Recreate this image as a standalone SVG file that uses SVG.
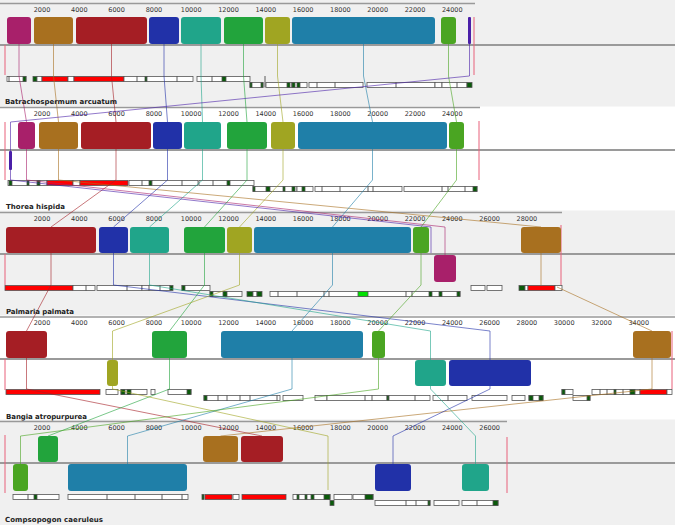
<svg xmlns="http://www.w3.org/2000/svg" width="675" height="528" viewBox="0 0 675 528">
<style>
.bg{fill:#f0f0f0}
.ax{stroke:#999;stroke-width:1.5}
.cl{stroke:#9a9a9a;stroke-width:2}
.tk{font-family:"DejaVu Sans",sans-serif;font-size:6.5px;fill:#333;text-anchor:middle}
.nm{font-family:"DejaVu Sans",sans-serif;font-weight:bold;font-size:7px;fill:#222}
.a{fill:#fff;stroke:#555;stroke-width:0.8}
.r{fill:#f00}
.g{fill:#0a5a0a}
.lg{fill:#00e000}
.dv{stroke:#333;stroke-width:0.8;fill:none}
.pk{stroke:#e8607a;stroke-width:1;fill:none}
.ln{fill:none;stroke-width:1;stroke-opacity:0.6}
.cM{fill:#a8206a}.sM{stroke:#a8206a}
.cBr{fill:#a8701f}.sBr{stroke:#a8701f}
.cR{fill:#a51e24}.sR{stroke:#a51e24}
.cB{fill:#2131a8}.sB{stroke:#2131a8}
.cT{fill:#20a58a}.sT{stroke:#20a58a}
.cG{fill:#22a43c}.sG{stroke:#22a43c}
.cO{fill:#a0a522}.sO{stroke:#a0a522}
.cS{fill:#1f7fa8}.sS{stroke:#1f7fa8}
.cG2{fill:#4aa522}.sG2{stroke:#4aa522}
.cP{fill:#4a1fa8}.sP{stroke:#4a1fa8}
</style>
<rect width="675" height="528" fill="#fff"/>
<g id="backgrounds">
<rect class="bg" x="0" y="0" width="675" height="106.5"/>
<rect class="bg" x="0" y="210.5" width="675" height="105"/>
<rect class="bg" x="0" y="419.5" width="675" height="105.5"/>
</g>
<g id="rulers">
<line class="ax" x1="0" y1="3.5" x2="475" y2="3.5"/>
<line class="ax" x1="0" y1="107.5" x2="480" y2="107.5"/>
<line class="ax" x1="0" y1="212.5" x2="562" y2="212.5"/>
<line class="ax" x1="0" y1="317" x2="675" y2="317"/>
<line class="ax" x1="0" y1="421.5" x2="507" y2="421.5"/>
<g class="tk">
<text x="42" y="11.5">2000</text><text x="79.3" y="11.5">4000</text><text x="116.6" y="11.5">6000</text><text x="153.9" y="11.5">8000</text><text x="191.2" y="11.5">10000</text><text x="228.5" y="11.5">12000</text><text x="265.8" y="11.5">14000</text><text x="303.1" y="11.5">16000</text><text x="340.4" y="11.5">18000</text><text x="377.7" y="11.5">20000</text><text x="415" y="11.5">22000</text><text x="452.3" y="11.5">24000</text>
<text x="42" y="116">2000</text><text x="79.3" y="116">4000</text><text x="116.6" y="116">6000</text><text x="153.9" y="116">8000</text><text x="191.2" y="116">10000</text><text x="228.5" y="116">12000</text><text x="265.8" y="116">14000</text><text x="303.1" y="116">16000</text><text x="340.4" y="116">18000</text><text x="377.7" y="116">20000</text><text x="415" y="116">22000</text><text x="452.3" y="116">24000</text>
<text x="42" y="221">2000</text><text x="79.3" y="221">4000</text><text x="116.6" y="221">6000</text><text x="153.9" y="221">8000</text><text x="191.2" y="221">10000</text><text x="228.5" y="221">12000</text><text x="265.8" y="221">14000</text><text x="303.1" y="221">16000</text><text x="340.4" y="221">18000</text><text x="377.7" y="221">20000</text><text x="415" y="221">22000</text><text x="452.3" y="221">24000</text><text x="489.6" y="221">26000</text><text x="526.9" y="221">28000</text>
<text x="42" y="325">2000</text><text x="79.3" y="325">4000</text><text x="116.6" y="325">6000</text><text x="153.9" y="325">8000</text><text x="191.2" y="325">10000</text><text x="228.5" y="325">12000</text><text x="265.8" y="325">14000</text><text x="303.1" y="325">16000</text><text x="340.4" y="325">18000</text><text x="377.7" y="325">20000</text><text x="415" y="325">22000</text><text x="452.3" y="325">24000</text><text x="489.6" y="325">26000</text><text x="526.9" y="325">28000</text><text x="564.2" y="325">30000</text><text x="601.5" y="325">32000</text><text x="638.8" y="325">34000</text>
<text x="42" y="430">2000</text><text x="79.3" y="430">4000</text><text x="116.6" y="430">6000</text><text x="153.9" y="430">8000</text><text x="191.2" y="430">10000</text><text x="228.5" y="430">12000</text><text x="265.8" y="430">14000</text><text x="303.1" y="430">16000</text><text x="340.4" y="430">18000</text><text x="377.7" y="430">20000</text><text x="415" y="430">22000</text><text x="452.3" y="430">24000</text><text x="489.6" y="430">26000</text>
</g>
</g>
<g id="centerlines">
<line class="cl" x1="0" y1="45" x2="675" y2="45"/>
<line class="cl" x1="0" y1="150" x2="675" y2="150"/>
<line class="cl" x1="0" y1="254" x2="675" y2="254"/>
<line class="cl" x1="0" y1="359" x2="675" y2="359"/>
<line class="cl" x1="0" y1="463" x2="675" y2="463"/>
</g>
<g id="annotations">
<g id="ann1">
<rect class="a" x="7" y="76.5" width="19" height="5"/><rect class="a g" x="23" y="76.5" width="3" height="5"/>
<rect class="a g" x="33" y="76.5" width="4" height="5"/><rect class="a" x="37" y="76.5" width="5" height="5"/><rect class="a r" x="42" y="76.5" width="26" height="5"/><rect class="a" x="68" y="76.5" width="6" height="5"/><rect class="a r" x="74" y="76.5" width="50" height="5"/>
<rect class="a" x="124" y="76.5" width="23" height="5"/><rect class="a g" x="145" y="76.5" width="2" height="5"/>
<rect class="a" x="147" y="76.5" width="46" height="5"/>
<rect class="a" x="197" y="76.5" width="53" height="5"/><rect class="a g" x="222" y="76.5" width="4" height="5"/>
<rect class="a" x="250" y="82.5" width="13" height="5"/><rect class="a g" x="250" y="82.5" width="2" height="5"/><rect class="a g" x="261" y="82.5" width="2" height="5"/>
<rect class="a" x="266" y="82.5" width="26" height="5"/><rect class="a g" x="287" y="82.5" width="3" height="5"/>
<rect class="a" x="292" y="82.5" width="15" height="5"/><rect class="a g" x="292" y="82.5" width="3" height="5"/><rect class="a g" x="297" y="82.5" width="3" height="5"/>
<rect class="a" x="309" y="82.5" width="54" height="5"/>
<rect class="a" x="367" y="82.5" width="68" height="5"/><rect class="a" x="435" y="82.5" width="7" height="5"/>
<rect class="a" x="442" y="82.5" width="25" height="5"/><rect class="a g" x="467" y="82.5" width="5" height="5"/>
<path class="dv" d="M9 76.5v5M137 76.5v5M177 76.5v5M212 76.5v5M265 76v11.5M317 82.5v5M335 82.5v5M396 82.5v5M457 82.5v5"/>
</g>
<g id="ann2">
<rect class="a" x="8" y="180.5" width="39" height="5"/><rect class="a g" x="9" y="180.5" width="3" height="5"/><rect class="a g" x="27" y="180.5" width="2" height="5"/><rect class="a g" x="37" y="180.5" width="3" height="5"/>
<rect class="a r" x="47" y="180.5" width="26" height="5"/><rect class="a" x="73" y="180.5" width="7" height="5"/><rect class="a r" x="80" y="180.5" width="48" height="5"/>
<rect class="a" x="129" y="180.5" width="23" height="5"/><rect class="a g" x="149" y="180.5" width="3" height="5"/>
<rect class="a" x="152" y="180.5" width="46" height="5"/>
<rect class="a" x="199" y="180.5" width="55" height="5"/><rect class="a g" x="227" y="180.5" width="3" height="5"/>
<rect class="a" x="253" y="186.5" width="44" height="5"/><rect class="a g" x="253" y="186.5" width="2" height="5"/><rect class="a g" x="266" y="186.5" width="4" height="5"/><rect class="a g" x="283" y="186.5" width="2" height="5"/><rect class="a g" x="292" y="186.5" width="3" height="5"/>
<rect class="a" x="297" y="186.5" width="16" height="5"/><rect class="a g" x="302" y="186.5" width="3" height="5"/>
<rect class="a" x="315" y="186.5" width="87" height="5"/>
<rect class="a" x="404" y="186.5" width="73" height="5"/><rect class="a g" x="473" y="186.5" width="4" height="5"/>
<path class="dv" d="M142 180.5v5M182 180.5v5M213 180.5v5M322 186.5v5M340 186.5v5M368 186.5v5M373 186.5v5M442 186.5v5M448 186.5v5M465 186.5v5"/>
</g>
<g id="ann3">
<rect class="a r" x="5" y="285.5" width="68" height="5"/><rect class="a" x="73" y="285.5" width="22" height="5"/>
<rect class="a" x="97" y="285.5" width="45" height="5"/><rect class="a" x="142" y="285.5" width="28" height="5"/><rect class="a g" x="170" y="285.5" width="3" height="5"/>
<rect class="a" x="182" y="285.5" width="28" height="5"/><rect class="a g" x="182" y="285.5" width="3" height="5"/>
<rect class="a" x="210" y="291.5" width="32" height="5"/><rect class="a g" x="210" y="291.5" width="3" height="5"/><rect class="a g" x="223" y="291.5" width="4" height="5"/>
<rect class="a g" x="247" y="291.5" width="6" height="5"/><rect class="a" x="253" y="291.5" width="4" height="5"/><rect class="a g" x="257" y="291.5" width="5" height="5"/>
<rect class="a" x="270" y="291.5" width="190" height="5"/><rect class="a lg" x="358" y="291.5" width="10" height="5"/><rect class="a g" x="429" y="291.5" width="3" height="5"/><rect class="a g" x="439" y="291.5" width="3" height="5"/><rect class="a g" x="457" y="291.5" width="3" height="5"/>
<rect class="a" x="471" y="285.5" width="14" height="5"/><rect class="a" x="487" y="285.5" width="15" height="5"/>
<rect class="a g" x="519" y="285.5" width="6" height="5"/><rect class="a" x="525" y="285.5" width="3" height="5"/><rect class="a r" x="528" y="285.5" width="27" height="5"/><rect class="a" x="555" y="285.5" width="7" height="5"/>
<path class="dv" d="M86 285.5v5M127 285.5v5M149 285.5v5M160 285.5v5M278 291.5v5M297 291.5v5M324 291.5v5M329 291.5v5M406 291.5v5M412 291.5v5"/>
</g>
<g id="ann4">
<rect class="a r" x="6" y="389.5" width="94" height="5"/><rect class="a" x="106" y="389.5" width="12" height="5"/>
<rect class="a" x="121" y="389.5" width="26" height="5"/><rect class="a g" x="121" y="389.5" width="4" height="5"/><rect class="a g" x="127" y="389.5" width="4" height="5"/>
<rect class="a" x="151" y="389.5" width="4" height="5"/>
<rect class="a" x="168" y="389.5" width="23" height="5"/><rect class="a g" x="187" y="389.5" width="4" height="5"/>
<rect class="a" x="204" y="395.5" width="76" height="5"/><rect class="a g" x="204" y="395.5" width="3" height="5"/>
<rect class="a" x="283" y="395.5" width="20" height="5"/><rect class="a" x="315" y="395.5" width="12" height="5"/>
<rect class="a" x="327" y="395.5" width="60" height="5"/><rect class="a g" x="387" y="395.5" width="2" height="5"/>
<rect class="a" x="389" y="395.5" width="41" height="5"/><rect class="a" x="433" y="395.5" width="34" height="5"/>
<rect class="a" x="472" y="395.5" width="35" height="5"/><rect class="a" x="512" y="395.5" width="13" height="5"/>
<rect class="a" x="529" y="395.5" width="14" height="5"/><rect class="a g" x="529" y="395.5" width="4" height="5"/><rect class="a g" x="539" y="395.5" width="4" height="5"/>
<rect class="a" x="562" y="389.5" width="11" height="5"/><rect class="a g" x="562" y="389.5" width="3" height="5"/>
<rect class="a" x="573" y="395.5" width="17" height="5"/><rect class="a g" x="587" y="395.5" width="3" height="5"/>
<rect class="a" x="592" y="389.5" width="48" height="5"/><rect class="a g" x="614" y="389.5" width="2" height="5"/><rect class="a g" x="630" y="389.5" width="5" height="5"/>
<rect class="a r" x="640" y="389.5" width="27" height="5"/><rect class="a" x="667" y="389.5" width="5" height="5"/>
<path class="dv" d="M218 395.5v5M227 395.5v5M240 395.5v5M250 395.5v5M277 395.5v5M365 395.5v5M372 395.5v5M415 395.5v5M448 395.5v5M600 389.5v5M607 389.5v5M623 389.5v5"/>
</g>
<g id="ann5">
<rect class="a" x="13" y="494.5" width="46" height="5"/><rect class="a g" x="34" y="494.5" width="3" height="5"/>
<rect class="a" x="68" y="494.5" width="120" height="5"/>
<rect class="a g" x="202" y="494.5" width="2" height="5"/><rect class="a r" x="205" y="494.5" width="27" height="5"/><rect class="a" x="233" y="494.5" width="6" height="5"/><rect class="a r" x="242" y="494.5" width="44" height="5"/>
<rect class="a" x="293" y="494.5" width="37" height="5"/><rect class="a g" x="297" y="494.5" width="2" height="5"/><rect class="a g" x="305" y="494.5" width="2" height="5"/><rect class="a g" x="311" y="494.5" width="3" height="5"/><rect class="a g" x="324" y="494.5" width="6" height="5"/>
<rect class="a g" x="330" y="500.5" width="4" height="5"/>
<rect class="a" x="334" y="494.5" width="18" height="5"/><rect class="a" x="353" y="494.5" width="20" height="5"/><rect class="a g" x="365" y="494.5" width="8" height="5"/>
<rect class="a" x="375" y="500.5" width="55" height="5"/><rect class="a g" x="428" y="500.5" width="2" height="5"/>
<rect class="a" x="434" y="500.5" width="25" height="5"/>
<rect class="a" x="462" y="500.5" width="36" height="5"/><rect class="a g" x="493" y="500.5" width="5" height="5"/>
<path class="dv" d="M28 494.5v5M107 494.5v5M135 494.5v5M162 494.5v5M182 494.5v5M406 500.5v5M416 500.5v5M477 500.5v5"/>
</g>
</g>
<g id="boundaries">
<path class="pk" d="M5 45V75M474 17V75M5 122V180M479 121V180M5 254V285M561 225V285M5 359V390M672 331V389M5 435V493M507 437V493"/>
</g>
<g id="connectors">
<polyline class="ln sM" points="19,17 19,76 26.5,122 26.5,180 445,227 445,255"/>
<polyline class="ln sBr" points="53.5,17 53.5,76 58.5,122 58.5,180 541,227 541,285"/>
<polyline class="ln sBr" points="557,287 652,331 652,389 220.5,436 220.5,450"/>
<polyline class="ln sR" points="111.5,17 111.5,76 116,122 116,180 51,227 51,285 26.5,331 26.5,389 262,436 262,450"/>
<polyline class="ln sB" points="164,17 164,76 167.5,122 167.5,180 113.5,227 113.5,285 490,331 490,389 393,436 393,464"/>
<polyline class="ln sT" points="201,17 201,76 202.5,122 202.5,180 149.5,227 149.5,285 430.5,331 430.5,389 475.5,436 475.5,464"/>
<polyline class="ln sG" points="243.5,17 243.5,76 247,122 247,180 204.5,227 204.5,285 169.5,331 169.5,389 48,436 48,450"/>
<polyline class="ln sO" points="277.5,17 277.5,76 283,122 283,180 239.5,227 239.5,285 112.5,331 112.5,389 328,436 328,490"/>
<polyline class="ln sS" points="363.5,17 363.5,76 372.5,122 372.5,180 332.5,227 332.5,285 292,331 292,389 127.5,436 127.5,464"/>
<polyline class="ln sG2" points="448.5,17 448.5,76 456.5,122 456.5,180 421,227 421,285 378.5,331 378.5,389 20.5,436 20.5,464"/>
<polyline class="ln sP" points="469.5,17 469.5,76 10.5,122 10.5,180 431,227 431,253"/>
</g>
<g id="genome1">
<rect id="g1-magenta" class="cM" x="7" y="17" width="24" height="27" rx="3"/>
<rect id="g1-brown" class="cBr" x="34" y="17" width="39" height="27" rx="3"/>
<rect id="g1-red" class="cR" x="76" y="17" width="71" height="27" rx="3"/>
<rect id="g1-blue" class="cB" x="149" y="17" width="30" height="27" rx="3"/>
<rect id="g1-teal" class="cT" x="181" y="17" width="40" height="27" rx="3"/>
<rect id="g1-green" class="cG" x="224" y="17" width="39" height="27" rx="3"/>
<rect id="g1-olive" class="cO" x="265" y="17" width="25" height="27" rx="3"/>
<rect id="g1-steel" class="cS" x="292" y="17" width="143" height="27" rx="3"/>
<rect id="g1-green2" class="cG2" x="441" y="17" width="15" height="27" rx="3"/>
<rect id="g1-purple" class="cP" x="468" y="17" width="3" height="27" rx="1"/>
<text class="nm" x="5" y="104" textLength="112">Batrachospermum arcuatum</text>
</g>
<g id="genome2">
<rect id="g2-magenta" class="cM" x="18" y="122" width="17" height="27" rx="3"/>
<rect id="g2-brown" class="cBr" x="39" y="122" width="39" height="27" rx="3"/>
<rect id="g2-red" class="cR" x="81" y="122" width="70" height="27" rx="3"/>
<rect id="g2-blue" class="cB" x="153" y="122" width="29" height="27" rx="3"/>
<rect id="g2-teal" class="cT" x="184" y="122" width="37" height="27" rx="3"/>
<rect id="g2-green" class="cG" x="227" y="122" width="40" height="27" rx="3"/>
<rect id="g2-olive" class="cO" x="271" y="122" width="24" height="27" rx="3"/>
<rect id="g2-steel" class="cS" x="298" y="122" width="149" height="27" rx="3"/>
<rect id="g2-green2" class="cG2" x="449" y="122" width="15" height="27" rx="3"/>
<rect id="g2-purple" class="cP" x="9" y="151" width="3" height="19" rx="1"/>
<text class="nm" x="6" y="209" textLength="59">Thorea hispida</text>
</g>
<g id="genome3">
<rect id="g3-red" class="cR" x="6" y="227" width="90" height="26" rx="3"/>
<rect id="g3-blue" class="cB" x="99" y="227" width="29" height="26" rx="3"/>
<rect id="g3-teal" class="cT" x="130" y="227" width="39" height="26" rx="3"/>
<rect id="g3-green" class="cG" x="184" y="227" width="41" height="26" rx="3"/>
<rect id="g3-olive" class="cO" x="227" y="227" width="25" height="26" rx="3"/>
<rect id="g3-steel" class="cS" x="254" y="227" width="157" height="26" rx="3"/>
<rect id="g3-green2" class="cG2" x="413" y="227" width="16" height="26" rx="3"/>
<rect id="g3-magenta" class="cM" x="434" y="255" width="22" height="27" rx="3"/>
<rect id="g3-brown" class="cBr" x="521" y="227" width="40" height="26" rx="3"/>
<text class="nm" x="6" y="314" textLength="68">Palmaria palmata</text>
</g>
<g id="genome4">
<rect id="g4-red" class="cR" x="6" y="331" width="41" height="27" rx="3"/>
<rect id="g4-olive" class="cO" x="107" y="360" width="11" height="26" rx="3"/>
<rect id="g4-green" class="cG" x="152" y="331" width="35" height="27" rx="3"/>
<rect id="g4-steel" class="cS" x="221" y="331" width="142" height="27" rx="3"/>
<rect id="g4-green2" class="cG2" x="372" y="331" width="13" height="27" rx="3"/>
<rect id="g4-teal" class="cT" x="415" y="360" width="31" height="26" rx="3"/>
<rect id="g4-blue" class="cB" x="449" y="360" width="82" height="26" rx="3"/>
<rect id="g4-brown" class="cBr" x="633" y="331" width="38" height="27" rx="3"/>
<text class="nm" x="6" y="419" textLength="81">Bangia atropurpurea</text>
</g>
<g id="genome5">
<rect id="g5-green2" class="cG2" x="13" y="464" width="15" height="27" rx="3"/>
<rect id="g5-green" class="cG" x="38" y="436" width="20" height="26" rx="3"/>
<rect id="g5-steel" class="cS" x="68" y="464" width="119" height="27" rx="3"/>
<rect id="g5-brown" class="cBr" x="203" y="436" width="35" height="26" rx="3"/>
<rect id="g5-red" class="cR" x="241" y="436" width="42" height="26" rx="3"/>
<rect id="g5-blue" class="cB" x="375" y="464" width="36" height="27" rx="3"/>
<rect id="g5-teal" class="cT" x="462" y="464" width="27" height="27" rx="3"/>
<text class="nm" x="5" y="522" textLength="98">Compsopogon caeruleus</text>
</g>
</svg>
